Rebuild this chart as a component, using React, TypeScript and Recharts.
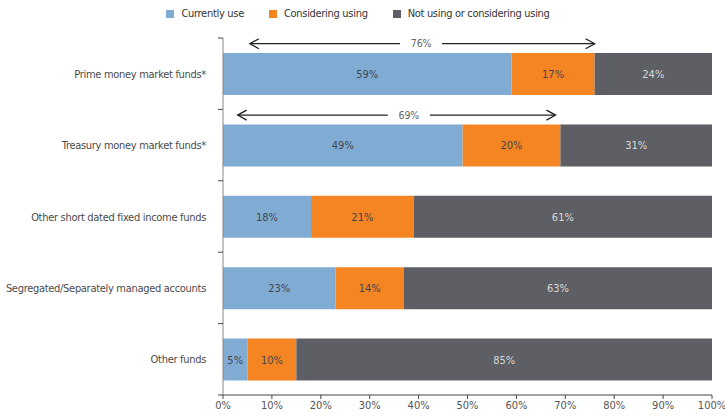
import React from 'react';
import { BarChart, Bar, XAxis, YAxis, Legend, LabelList, ReferenceLine } from 'recharts';

const categories = [
  'Prime money market funds*',
  'Treasury money market funds*',
  'Other short dated fixed income funds',
  'Segregated/Separately managed accounts',
  'Other funds',
];
const currentlyUse = [59, 49, 18, 23, 5];
const consideringUsing = [17, 20, 21, 14, 10];
const notUsing = [24, 31, 61, 63, 85];

const seriesNames = ['Currently use', 'Considering using', 'Not using or considering using'];
const seriesColors = ['#80ACD3', '#F58422', '#5E5F64'];

const xTicks = [0, 10, 20, 30, 40, 50, 60, 70, 80, 90, 100];

// Bracket annotations: total of "currently use" + "considering"
const arrowCategories = [categories[0], categories[1]];
const arrowStart = [5.5, 3];
const arrowEnd = [76, 68];
const arrowLabelPos = [40.5, 38];
const arrowLabels = ['76%', '69%'];

const data = categories.map((name, i) => ({
  name,
  current: currentlyUse[i],
  considering: consideringUsing[i],
  notUsing: notUsing[i],
}));

const FONT = "'DejaVu Sans Condensed', 'Noto Sans', sans-serif";
const TICK_MARGIN = 17;

const makeArrowShape = (idx: number) => (p: any) => {
  const { x1, y1, x2 } = p;
  if (x1 == null || x2 == null) return null;
  const y = y1 - 30;
  const s = arrowStart[idx];
  const e = arrowEnd[idx];
  const lx = x1 + ((arrowLabelPos[idx] - s) / (e - s)) * (x2 - x1);
  const gap = 21;
  return (
    <g>
      <line x1={x1} y1={y} x2={lx - gap} y2={y} stroke="#222" strokeWidth={1.3} />
      <line x1={lx + gap} y1={y} x2={x2} y2={y} stroke="#222" strokeWidth={1.3} />
      <polyline points={`${x1 + 9},${y - 5} ${x1},${y} ${x1 + 9},${y + 5}`} fill="none" stroke="#222" strokeWidth={1.3} />
      <polyline points={`${x2 - 9},${y - 5} ${x2},${y} ${x2 - 9},${y + 5}`} fill="none" stroke="#222" strokeWidth={1.3} />
      <text x={lx} y={y} dy={3.5} textAnchor="middle" fontSize={10.5} letterSpacing={-0.2} fill="#666" fontFamily={FONT}>
        {arrowLabels[idx]}
      </text>
    </g>
  );
};

const CategoryTick = (p: any) => {
  const { x, y, payload, index, visibleTicksCount } = p;
  const half = payload && typeof payload.offset === 'number' ? payload.offset : 0;
  const ax = x + TICK_MARGIN;
  const isLast = index === (visibleTicksCount ?? categories.length) - 1;
  return (
    <g>
      {half > 0 && <line x1={ax - 5} x2={ax} y1={y - half} y2={y - half} stroke="#444" strokeWidth={1} />}
      {half > 0 && isLast && <line x1={ax - 5} x2={ax} y1={y + half} y2={y + half} stroke="#444" strokeWidth={1} />}
      <text x={x} y={y} dy={4} textAnchor="end" fontSize={11} letterSpacing={-0.3} fill="#4a4a4a" fontFamily={FONT}>
        {payload.value}
      </text>
    </g>
  );
};

const LegendContent = () => (
  <div style={{ display: 'flex', justifyContent: 'center', fontFamily: FONT, fontSize: 11, letterSpacing: -0.3, color: '#333', lineHeight: '12px', paddingLeft: 4 }}>
    {seriesNames.map((n, i) => (
      <div key={n} style={{ display: 'flex', alignItems: 'center', marginRight: i < seriesNames.length - 1 ? 25 : 0 }}>
        <span style={{ display: 'inline-block', width: 8, height: 8, background: seriesColors[i], marginRight: 7 }} />
        <span>{n}</span>
      </div>
    ))}
  </div>
);

const pct = (v: any) => `${v}%`;

export default function App() {
  return (
    <div style={{ position: 'absolute', left: 0, top: 0, width: 725, height: 418, background: '#fff' }}>
      <BarChart
        width={725}
        height={418}
        data={data}
        layout="vertical"
        margin={{ top: 8, right: 13, bottom: 0, left: 0 }}
      >
        <Legend verticalAlign="top" align="center" height={30} content={<LegendContent />} />
        <XAxis
          type="number"
          domain={[0, 100]}
          ticks={xTicks}
          tickFormatter={pct}
          height={23}
          tickSize={4}
          tickMargin={2}
          stroke="#444"
          tick={{ fill: '#555', fontSize: 11, fontFamily: FONT }}
          interval={0}
        />
        <YAxis
          type="category"
          dataKey="name"
          width={223}
          tickLine={false}
          tickSize={0}
          tickMargin={TICK_MARGIN}
          stroke="#888"
          tick={<CategoryTick />}
          interval={0}
        />
        <Bar dataKey="current" name={seriesNames[0]} stackId="a" fill={seriesColors[0]} barSize={42} isAnimationActive={false}>
          <LabelList dataKey="current" position="center" formatter={pct} fill="#454550" fontSize={11} fontFamily={FONT} />
        </Bar>
        <Bar dataKey="considering" name={seriesNames[1]} stackId="a" fill={seriesColors[1]} barSize={42} isAnimationActive={false}>
          <LabelList dataKey="considering" position="center" formatter={pct} fill="#454550" fontSize={11} fontFamily={FONT} />
        </Bar>
        <Bar dataKey="notUsing" name={seriesNames[2]} stackId="a" fill={seriesColors[2]} barSize={42} isAnimationActive={false}>
          <LabelList dataKey="notUsing" position="center" formatter={pct} fill="#D8D8D8" fontSize={11} fontFamily={FONT} />
        </Bar>
        {arrowCategories.map((c, i) => (
          <ReferenceLine
            key={c}
            segment={[{ x: arrowStart[i], y: c }, { x: arrowEnd[i], y: c }]}
            ifOverflow="visible"
            shape={makeArrowShape(i)}
          />
        ))}
      </BarChart>
    </div>
  );
}
